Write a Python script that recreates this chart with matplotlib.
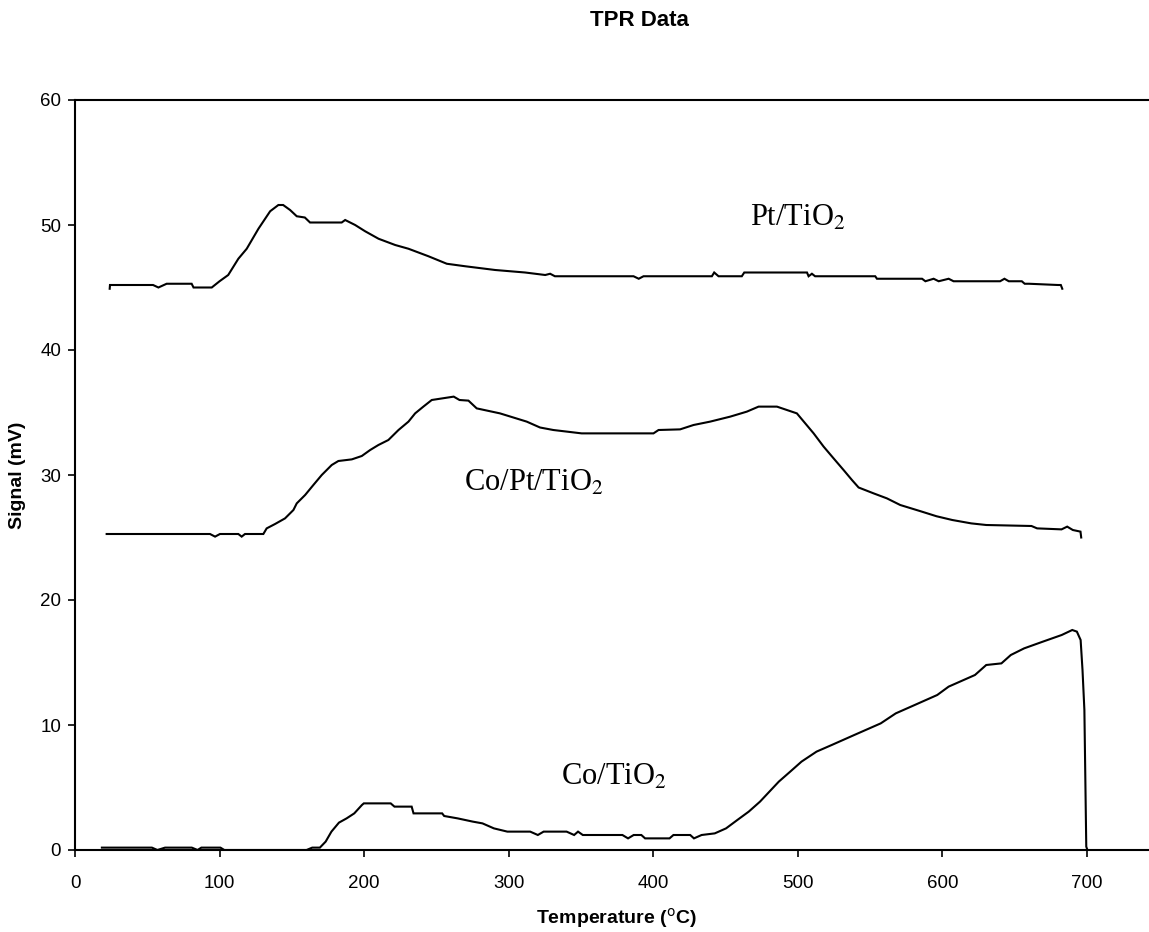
import matplotlib
matplotlib.use("Agg")
import matplotlib.pyplot as plt

# TPR traces (temperature in C, signal in mV)
pt_x = [24, 24.2, 54, 57.7, 63.4, 80.7, 82, 94.6, 100, 106, 113, 118.8, 126.9, 135, 140.7,
        144, 148.8, 153.4, 159, 162.6, 184.5, 186.9, 193.8, 200.7, 210, 221.5, 230.7, 244.5,
        257.2, 269.9, 290.7, 311.4, 325.3, 328.7, 332, 386.4, 390, 393.3, 440.6, 442.2, 445.2,
        461.3, 463, 506.4, 507.5, 509.8, 512, 553.6, 554.8, 586, 588.3, 594, 597.5, 604.4,
        607.8, 626.3, 640, 643, 646, 655, 657, 660, 680, 682, 683]
pt_y = [44.9, 45.2, 45.2, 45.0, 45.3, 45.3, 45.0, 45.0, 45.5, 46.0, 47.3, 48.1, 49.7, 51.1, 51.6,
        51.6, 51.2, 50.7, 50.6, 50.2, 50.2, 50.4, 50.0, 49.5, 48.9, 48.4, 48.1, 47.5,
        46.9, 46.7, 46.4, 46.2, 46.0, 46.1, 45.9, 45.9, 45.7, 45.9, 45.9, 46.2, 45.9,
        45.9, 46.2, 46.2, 45.9, 46.1, 45.9, 45.9, 45.7, 45.7, 45.5, 45.7, 45.5, 45.7,
        45.5, 45.5, 45.5, 45.7, 45.5, 45.5, 45.3, 45.3, 45.2, 45.2, 44.9]

copt_x = [21.9, 93.4, 96.9, 100.3, 113, 115.3, 117.6, 130.3, 132.6, 138.4, 145.3, 151.1, 153.4,
          159.2, 164.9, 170.7, 177.6, 182.2, 191.5, 198.4, 204.2, 209.9, 216.8, 223.8, 230.7,
          235.3, 241, 246.8, 262, 266, 272.2, 277.9, 294, 312.5, 321.7, 330.9, 350.5, 400.2,
          403.7, 418.6, 427.9, 439.4, 453.3, 464.8, 472.9, 485.6, 492.5, 499.4, 505.2, 511,
          517.9, 524.8, 531.7, 537.5, 542.1, 552.5, 561.7, 570.9, 585, 596, 606.9, 620, 630.4,
          661.7, 665.6, 682.5, 686.4, 690.3, 695.6, 696.1]
copt_y = [25.28, 25.28, 25.07, 25.28, 25.28, 25.07, 25.28, 25.28, 25.73, 26.08, 26.53, 27.2, 27.73,
          28.4, 29.2, 30.0, 30.8, 31.12, 31.25, 31.52, 32.0, 32.4, 32.8, 33.6, 34.27,
          34.93, 35.47, 36.0, 36.27, 36.0, 35.95, 35.33, 34.93, 34.27, 33.8, 33.6, 33.33, 33.33,
          33.6, 33.65, 34.0, 34.27, 34.67, 35.07, 35.47, 35.47, 35.2, 34.93, 34.13, 33.33,
          32.27, 31.33, 30.4, 29.6, 29.0, 28.53, 28.13, 27.6, 27.1, 26.7, 26.4, 26.13, 26.0,
          25.92, 25.73, 25.65, 25.87, 25.6, 25.47, 25.0]

co_x = [18.6, 53.2, 57, 62.3, 80.8, 84.8, 87.4, 100.6, 103.3, 160.2, 164.1, 169.4, 173.4, 177.4,
        182.6, 187.9, 193.2, 198.5, 199.8, 218.4, 221, 232.9, 234.2, 254, 255.4, 264.7, 275.2,
        281.9, 289.8, 299.1, 314.9, 320.2, 324.2, 340.1, 345.3, 348, 351.3, 378.7, 382.6, 386.5,
        391.8, 394.4, 411.3, 414, 425.6, 428.2, 433.5, 442.6, 450.4, 458.2, 466.1, 473.9, 480.4,
        486.9, 494.8, 502.6, 513, 523.5, 539.1, 557.4, 567.8, 580.9, 596.5, 604.4, 622.6, 630.4,
        640.9, 647.4, 656.6, 669.6, 682.6, 689.9, 693.1, 695.7, 697, 698.3, 699.6, 700.4]
co_y = [0.19, 0.19, 0.0, 0.19, 0.19, 0.0, 0.19, 0.19, 0.0, 0.0, 0.19, 0.19, 0.67, 1.47,
        2.19, 2.53, 2.93, 3.6, 3.73, 3.73, 3.47, 3.47, 2.93, 2.93, 2.72, 2.53, 2.27,
        2.13, 1.73, 1.47, 1.47, 1.2, 1.47, 1.47, 1.2, 1.47, 1.2, 1.2, 0.93, 1.2,
        1.2, 0.93, 0.93, 1.2, 1.2, 0.93, 1.2, 1.33, 1.73, 2.4, 3.07, 3.87, 4.67,
        5.47, 6.27, 7.07, 7.87, 8.4, 9.2, 10.13, 10.93, 11.6, 12.4, 13.07, 14.0, 14.8,
        14.93, 15.6, 16.13, 16.67, 17.2, 17.6, 17.47, 16.8, 14.4, 11.2, 0.27, 0.0]

# (text, x, y) for the in-plot sample labels
labels = [("Pt/TiO$_2$", 467, 49.9),
          ("Co/Pt/TiO$_2$", 269, 28.7),
          ("Co/TiO$_2$", 336, 5.2)]

x_ticks = [0, 100, 200, 300, 400, 500, 600, 700]
y_ticks = [0, 10, 20, 30, 40, 50, 60]

plt.rcParams["font.family"] = ["Liberation Sans", "DejaVu Sans"]
plt.rcParams["mathtext.fontset"] = "stix"

W, H = 1149, 932
fig = plt.figure(figsize=(W / 100, H / 100), dpi=100)
ax = fig.add_axes([75 / W, 1 - 850 / H, 1 - 75 / W, 750 / H])

for xs, ys in [(pt_x, pt_y), (copt_x, copt_y), (co_x, co_y)]:
    ax.plot(xs, ys, color="black", linewidth=1.5, solid_joinstyle="miter")

for text, x, y in labels:
    ax.text(x, y, text, fontsize=22, family=["Liberation Serif", "DejaVu Serif"],
            ha="left", va="baseline")

ax.set_xlim(0, 743)
ax.set_ylim(0, 60)
ax.set_xticks(x_ticks)
ax.set_yticks(y_ticks)
ax.spines["right"].set_visible(False)
for s in ["left", "top", "bottom"]:
    ax.spines[s].set_linewidth(1.5)
ax.tick_params(axis="both", direction="out", length=5, width=1.2, labelsize=13.5)
ax.tick_params(axis="x", pad=13)
ax.tick_params(axis="y", pad=5)

fig.text(639 / W, 1 - 21 / H, "TPR Data", fontsize=16, fontweight="bold",
         ha="center", va="center")
fig.text(616 / W, 1 - 918 / H, "Temperature ($^{\\rm o}$C)", fontsize=14, fontweight="bold",
         ha="center", va="center", math_fontfamily="dejavusans")
fig.text(18 / W, 1 - 475 / H, "Signal (mV)", fontsize=14, fontweight="bold",
         ha="center", va="center", rotation=90)

fig.savefig("out.png", dpi=100)
